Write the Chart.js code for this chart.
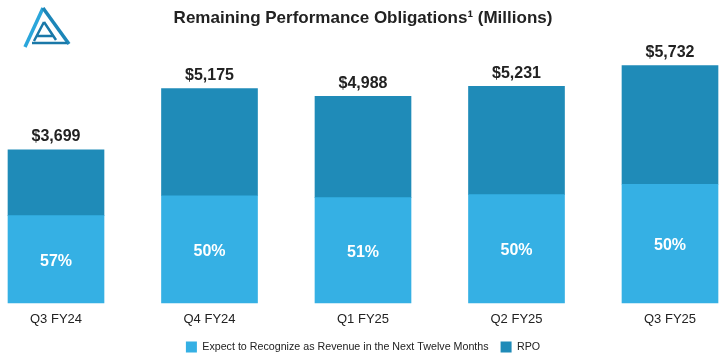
<!DOCTYPE html>
<html>
<head>
<meta charset="utf-8">
<style>
  html, body { margin: 0; padding: 0; background: #ffffff; }
  #wrap { width: 722px; height: 356px; }
</style>
<script src="https://cdn.jsdelivr.net/npm/chart.js@4.4.1/dist/chart.umd.min.js"></script>
</head>
<body>
<div id="wrap"><canvas id="c" width="722" height="356"></canvas></div>
<script>
// ---- data ----
const categories = ['Q3 FY24', 'Q4 FY24', 'Q1 FY25', 'Q2 FY25', 'Q3 FY25'];
const totalRPO = [3699, 5175, 4988, 5231, 5732];
const nextTwelveMonths = [2108, 2588, 2544, 2616, 2866];
const beyondTwelveMonths = [1591, 2587, 2444, 2615, 2866];
const totalLabels = ['$3,699', '$5,175', '$4,988', '$5,231', '$5,732'];
const percentLabels = ['57%', '50%', '51%', '50%', '50%'];
const seriesNames = ['Expect to Recognize as Revenue in the Next Twelve Months', 'RPO'];

const LIGHT = '#35b0e4';
const DARK = '#1f8bb8';
const FONT = '"Liberation Sans", Arial, sans-serif';

const labelPlugin = {
  id: 'barLabels',
  afterDatasetsDraw(chart) {
    const ctx = chart.ctx;
    const lower = chart.getDatasetMeta(0).data;
    const upper = chart.getDatasetMeta(1).data;
    ctx.save();
    ctx.textAlign = 'center';
    ctx.textBaseline = 'middle';
    ctx.font = 'bold 16px ' + FONT;
    upper.forEach((el, i) => {
      ctx.fillStyle = '#222222';
      ctx.fillText(totalLabels[i], el.x, el.y - 13);
    });
    lower.forEach((el, i) => {
      ctx.fillStyle = '#ffffff';
      ctx.fillText(percentLabels[i], el.x, (el.y + el.base) / 2 + 2);
    });
    ctx.restore();
  }
};

const logoPlugin = {
  id: 'logo',
  beforeDraw(chart) {
    const ctx = chart.ctx;
    ctx.save();
    ctx.lineCap = 'butt';
    ctx.strokeStyle = '#2aa6db';
    ctx.lineWidth = 3.5;
    ctx.beginPath();
    ctx.moveTo(43, 8); ctx.lineTo(25, 47);
    ctx.stroke();
    ctx.strokeStyle = '#1c86b8';
    ctx.beginPath();
    ctx.moveTo(43, 8); ctx.lineTo(69, 44);
    ctx.stroke();
    ctx.strokeStyle = '#1a78a8';
    ctx.lineWidth = 2.5;
    ctx.beginPath();
    ctx.moveTo(44, 22); ctx.lineTo(34, 41);
    ctx.moveTo(44, 22); ctx.lineTo(56, 40);
    ctx.moveTo(36, 36); ctx.lineTo(53, 36);
    ctx.moveTo(32, 43); ctx.lineTo(67, 43);
    ctx.stroke();
    ctx.restore();
  }
};

new Chart(document.getElementById('c'), {
  type: 'bar',
  data: {
    labels: categories,
    datasets: [
      { label: seriesNames[0], data: nextTwelveMonths, backgroundColor: LIGHT, barThickness: 96, clip: false },
      { label: seriesNames[1], data: beyondTwelveMonths, backgroundColor: DARK, barThickness: 96, clip: false }
    ]
  },
  options: {
    responsive: false,
    animation: false,
    layout: { padding: { left: 56, right: 52, top: 0, bottom: -6.5 } },
    scales: {
      x: {
        stacked: true,
        offset: false,
        grid: { display: false, drawTicks: false },
        border: { display: false },
        ticks: { color: '#222222', font: { family: FONT, size: 13 }, padding: 9, maxRotation: 0, autoSkip: false },
        afterFit(scale) { scale.height = 26.5; }
      },
      y: {
        stacked: true,
        display: false,
        min: 0,
        max: 6000
      }
    },
    plugins: {
      title: {
        display: true,
        text: 'Remaining Performance Obligations¹ (Millions)',
        color: '#222222',
        font: { family: FONT, size: 17, weight: 'bold' },
        padding: { top: 8, bottom: 26 }
      },
      legend: {
        display: true,
        position: 'bottom',
        labels: {
          color: '#222222',
          font: { family: FONT, size: 10.7 },
          boxWidth: 11,
          boxHeight: 11,
          padding: 12
        }
      },
      tooltip: { enabled: false }
    }
  },
  plugins: [labelPlugin, logoPlugin]
});
</script>
</body>
</html>
